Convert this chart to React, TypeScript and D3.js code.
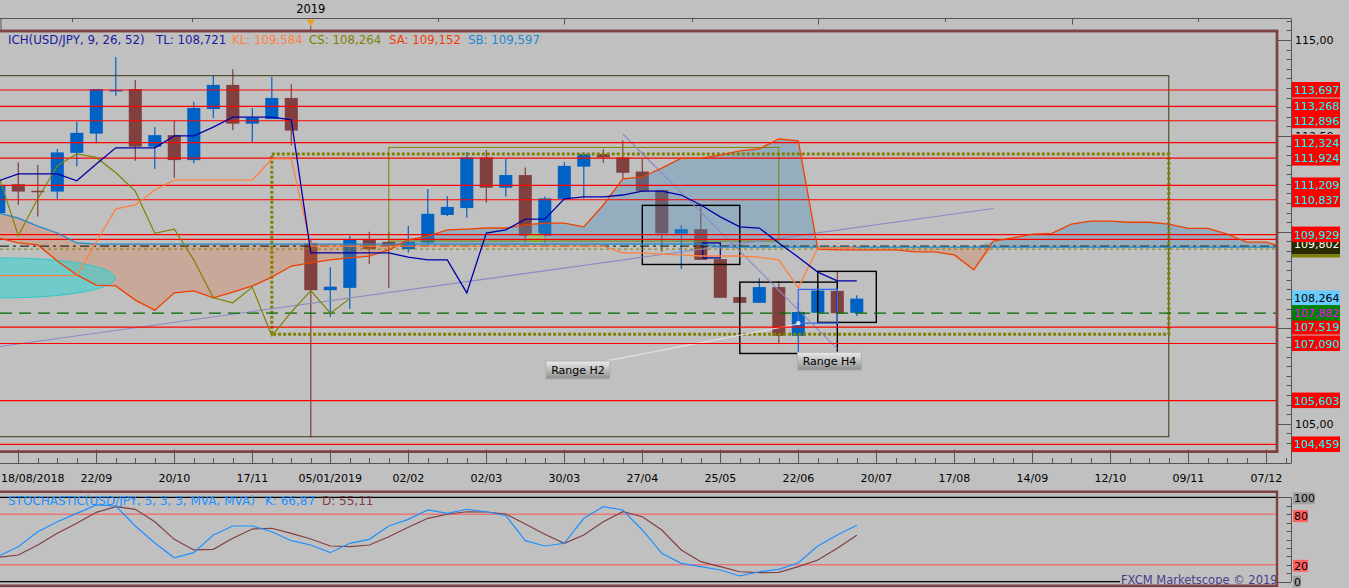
import React from 'react';
import * as d3 from 'd3';

// ---------- DATA ----------
// weekly candles, bar index -1 .. 43
const openP = [110.49,111.24,111.07,111.05,112.06,112.56,113.68,113.72,112.22,112.52,111.87,113.20,113.83,112.82,112.94,113.49,109.70,108.48,108.54,109.79,109.74,109.55,109.72,110.44,110.62,111.94,111.15,111.48,109.90,110.86,111.70,112.03,111.94,111.57,111.09,109.95,110.07,109.29,108.30,108.15,108.56,107.29,107.89,108.46,107.89];
const highP = [111.40,111.81,111.74,112.16,112.86,113.72,114.56,113.96,112.73,112.89,113.39,114.09,114.24,113.23,114.04,113.85,109.79,109.08,109.89,110.00,110.00,110.15,111.12,110.93,112.08,112.13,111.90,111.68,110.92,111.82,112.07,112.15,112.39,111.90,111.09,110.18,110.70,109.29,108.63,108.79,108.72,108.14,108.60,108.98,108.35];
const lowP = [110.30,110.70,110.40,110.86,111.70,112.31,113.55,111.85,111.64,111.41,111.79,112.97,112.65,112.34,112.94,112.26,104.65,107.79,107.99,109.16,108.54,109.46,109.68,110.41,110.37,110.76,110.92,109.74,109.72,110.86,110.87,111.80,111.39,111.06,109.48,109.03,109.27,108.28,108.15,108.15,107.07,106.83,107.86,107.81,107.81];
const closeP = [111.22,111.05,111.05,112.07,112.58,113.72,113.70,112.22,112.52,111.87,113.23,113.83,112.82,112.97,113.49,112.64,108.48,108.57,109.79,109.55,109.63,109.74,110.47,110.65,111.94,111.15,111.48,109.90,110.87,111.72,112.03,111.94,111.54,111.06,109.96,110.07,109.27,108.28,108.15,108.56,107.29,107.91,108.47,107.88,108.26];
const FIRST_BAR = -1;

// Ichimoku lines (bar -1 .. 43)
const tenkan = [111.33,111.51,111.51,111.51,111.33,111.77,112.19,112.19,112.19,112.50,112.50,112.73,112.99,112.99,112.99,112.92,109.45,109.45,109.45,109.45,109.45,109.34,109.27,109.27,108.41,109.97,110.05,110.33,110.33,110.86,110.91,110.91,110.96,111.06,111.06,110.96,110.70,110.39,110.13,110.10,109.71,109.34,108.95,108.72,108.72];
const kijun = [108.86,108.86,108.86,108.86,108.86,109.74,110.60,110.70,111.09,111.35,111.35,111.35,111.35,111.35,111.90,111.90,109.63,109.63,109.63,109.63,109.63,109.63,109.63,109.63,109.63,109.63,109.63,109.63,109.63,109.63,109.63,109.63,109.45,109.45,109.42,109.40,109.37,109.37,109.37,109.34,109.27,108.54,109.58,109.58,109.58];
// Chikou (bar -1 .. 17)
const chikou = [111.45,109.90,110.87,111.72,112.03,111.94,111.54,111.06,109.96,110.07,109.27,108.28,108.15,108.56,107.29,107.91,108.47,107.88,108.26];
// Senkou spans (bar -1 .. 65)
const senkouA = [109.84,109.71,109.66,109.24,108.88,108.61,108.59,108.22,107.96,108.41,108.46,108.28,108.43,108.59,108.82,109.11,109.19,109.27,109.32,109.37,109.53,109.79,109.89,110.05,110.07,110.10,110.10,110.18,110.23,110.23,110.13,110.70,111.38,111.43,111.66,111.92,111.92,112.00,112.11,112.16,112.42,112.37,109.55,109.53,109.53,109.53,109.53,109.48,109.48,109.40,109.01,109.76,109.84,109.94,109.96,110.20,110.28,110.28,110.25,110.25,110.20,110.09,110.09,109.94,109.73,109.73,109.58];
const senkouB = [110.49,110.36,110.15,109.97,109.71,
  109.68,109.68,109.68,109.68,109.68,109.68,109.68,109.68,109.68,109.68,109.68,109.68,109.68,109.68,109.68,109.68,
  109.68,109.68,109.68,109.68,109.68,109.68,109.68,109.68,109.68,109.68,109.68,109.68,109.68,109.68,109.68,109.68,
  109.60,109.60,109.60,109.60,109.60,109.60,109.60,109.60,109.60,109.60,109.60,109.60,109.60,109.60,109.60,109.60,
  109.60,109.60,109.60,109.60,109.60,109.60,109.60,109.60,109.60,109.60,109.60,109.60,109.60,109.60];

// Stochastic (bar -1 .. 43)
const stochK = [30.5,41.5,59.2,71.1,81.0,90.9,89.7,66.0,45.9,28.4,34.4,55.3,66.0,66.0,59.2,48.6,43.5,34.4,45.5,50.2,66.0,73.9,85.0,81.0,85.8,82.9,78.2,48.6,42.3,45.5,75.1,88.9,85.0,61.3,33.6,21.8,17.8,13.9,6.8,11.8,14.7,22.5,42.3,55.3,66.87];
const stochD = [28.9,31.6,43.5,57.3,69.2,82.2,88.9,85.8,71.1,50.2,37.6,38.4,51.4,62.4,63.3,57.3,50.6,42.3,41.5,43.5,53.3,64.5,75.1,79.9,82.9,82.6,80.2,68.4,56.2,45.5,55.3,71.1,82.9,77.0,61.3,37.6,23.7,17.8,11.8,10.7,11.1,17.8,25.7,39.6,55.11];

// X axis
const xTickBars = [0,4,8,12,16,20,24,28,32,36,40,44,48,52,56,60,64];
const xTickLabels = ['18/08/2018','22/09','20/10','17/11','05/01/2019','02/02','02/03','30/03','27/04','25/05','22/06','20/07','17/08','14/09','12/10','09/11','07/12'];
const topMinorBars = [2.75, 8.91, 21.52, 34.55, 47.5, 60.5];
const topMajorBars = [27.98, 41.01, 54.03];
const yearMarkerBar = 15;
const yearLabel = '2019';

// horizontal levels
const redLevels = [113.697,113.268,112.896,112.324,111.924,111.209,110.837,109.929,107.519,107.090,105.603,104.459];
const hiddenLevel = 109.802;
const darkDashLevel = 109.63;
const oliveDotLevel = 109.55;
const greenLevel = 107.882;
const lastPrice = 108.264;
const axisMajor = [105, 107.5, 110, 112.5, 115];
const axisLabeled = [105, 112.5, 115];

// drawings: [bar0, bar1, priceTop, priceBottom]
const bigRect = [-3, 59, 114.07, 104.66];
const oliveRect = [19, 39, 112.20, 109.76];
const dottedRect = [13, 59, 112.03, 107.33];
const blackRects = [[32, 37, 110.69, 109.15], [37, 42, 108.69, 106.83], [41, 44, 108.97, 107.64]];
const blueRect = [40, 42, 108.50, 107.62];
const navyRect = [35.1, 36, 109.71, 109.32];
// trend lines: [bar0, price0, bar1, price1]
const lavLines = [[-0.94, 107.01, 50.0, 110.61], [31.0, 112.55, 42.0, 106.95]];
const grayLine = [30.1, 106.63, 40.0, 107.60];
const rangeLabels = [{ t: 'Range H2', b: 28.7, p: 106.40 }, { t: 'Range H4', b: 41.6, p: 106.63 }];
const cyanEllipse = { b: -0.68, p: 108.80, rb: 5.64, rp: 0.52 };
const greenEllipse = { b: 26.55, p: 109.84, rb: 0.5, rp: 0.13 };

const legend = [
  { t: 'ICH(USD/JPY, 9, 26, 52)', x: 8, c: '#1a1aa0' },
  { t: 'TL: 108,721', x: 156, c: '#1a1aa0' },
  { t: 'KL: 109,584', x: 232, c: '#ff8040' },
  { t: 'CS: 108,264', x: 309, c: '#808000' },
  { t: 'SA: 109,152', x: 389, c: '#f04000' },
  { t: 'SB: 109,597', x: 468, c: '#1e88d0' },
];

const FONT = '"DejaVu Sans", Verdana, sans-serif';
const fmt3 = (v: number) => v.toFixed(3).replace('.', ',');
const fmt2 = (v: number) => v.toFixed(2).replace('.', ',');

export default function App() {
  const W = 1349, H = 588;
  const FR = 1277, FT = 31, FB = 451.7;
  const ST = 491.7, SB = 585.7;
  const AX = 1291;
  const FRAME = '#7e4242';

  const xs = d3.scaleLinear().domain([0, 4]).range([18.3, 96.3]);
  const ys = d3.scaleLinear().domain([105, 115]).range([423.7, 40]);
  const ss = d3.scaleLinear().domain([0, 100]).range([581.7, 497.3]);
  const bw = (xs(1) - xs(0)) * 0.67;

  const mkLine = (arr: number[], start: number, sc: any) =>
    d3.line<number>().x((_, i) => xs(start + i)).y((v) => sc(v))(arr) || '';

  const cloudPts = senkouA.map((a, i) => ({ b: FIRST_BAR + i, a, s: senkouB[i] }));
  const blueArea = d3.area<any>().x((d) => xs(d.b)).y0((d) => ys(d.s)).y1((d) => ys(Math.max(d.a, d.s)))(cloudPts) || '';
  const redArea = d3.area<any>().x((d) => xs(d.b)).y0((d) => ys(d.s)).y1((d) => ys(Math.min(d.a, d.s)))(cloudPts) || '';

  const rectEl = (r: number[], props: any, key?: any) => (
    <rect key={key} x={xs(r[0])} y={ys(r[2])} width={xs(r[1]) - xs(r[0])} height={ys(r[3]) - ys(r[2])} fill="none" {...props} />
  );

  const priceTicks = d3.range(104.5, 115.6, 0.25).filter((v) => ys(v) > 19 && ys(v) < 463);
  const barsAll = d3.range(-1, 66);

  const labelBox = (v: number, bg: string, fg: string, key: any) => {
    const y = ys(v);
    return (
      <g key={key}>
        <rect x={1292} y={y - 8} width={48} height={15.5} fill={bg} />
        <text x={1294} y={y + 4} fill={fg} fontSize={11} fontFamily={FONT}>{fmt3(v)}</text>
      </g>
    );
  };

  const frame = (t: number, b: number, key: string) => (
    <g key={key} stroke={FRAME} strokeWidth={2.4} fill="none">
      <line x1={0} x2={FR + 1.2} y1={t} y2={t} />
      <line x1={0} x2={FR + 1.2} y1={b} y2={b} />
      <line x1={FR} x2={FR} y1={t} y2={b} />
    </g>
  );

  return (
    <div style={{ width: W, height: H, overflow: 'hidden' }}>
      <style>{`html,body{margin:0;padding:0;overflow:hidden;background:#c0c0c0}`}</style>
      <svg width={W} height={H} style={{ display: 'block' }}>
        <defs>
          <clipPath id="mainClip"><rect x={0} y={FT} width={FR} height={FB - FT} /></clipPath>
          <clipPath id="stochClip"><rect x={0} y={ST} width={FR} height={SB - ST} /></clipPath>
          <clipPath id="aboveBox"><rect x={1290} y={120} width={59} height={14} /></clipPath>
          <linearGradient id="btn" x1="0" y1="0" x2="0" y2="1">
            <stop offset="0" stopColor="#ececec" />
            <stop offset="1" stopColor="#8c8c8c" />
          </linearGradient>
        </defs>
        <rect x={0} y={0} width={W} height={H} fill="#c0c0c0" />

        {/* top navigator strip */}
        <line x1={0} x2={AX} y1={18.5} y2={18.5} stroke="#555" />
        <line x1={1} x2={1} y1={18.5} y2={30} stroke="#555" />
        {topMinorBars.map((b, i) => (
          <line key={'tm' + i} x1={Math.round(xs(b)) + 0.5} x2={Math.round(xs(b)) + 0.5} y1={18.5} y2={22} stroke="#555" />
        ))}
        {topMajorBars.map((b, i) => (
          <line key={'tM' + i} x1={Math.round(xs(b)) + 0.5} x2={Math.round(xs(b)) + 0.5} y1={18.5} y2={24.5} stroke="#555" />
        ))}
        <text x={xs(yearMarkerBar)} y={13} textAnchor="middle" fontSize={11.5} fontFamily={FONT} fill="#000">{yearLabel}</text>
        <path d={`M${xs(yearMarkerBar) - 4},19.5 L${xs(yearMarkerBar) + 4},19.5 L${xs(yearMarkerBar)},26.5 Z`} fill="#f0a020" />
        <line x1={xs(yearMarkerBar)} x2={xs(yearMarkerBar)} y1={26} y2={31} stroke="#804040" />

        {/* legend */}
        {legend.map((l, i) => (
          <text key={'lg' + i} x={l.x} y={44} fill={l.c} fontSize={11.8} fontFamily={FONT}>{l.t}</text>
        ))}

        {/* main plot */}
        <g clipPath="url(#mainClip)">
          {openP.map((o, i) => {
            const b = FIRST_BAR + i;
            const c = closeP[i];
            const bull = c >= o;
            const col = bull ? '#0062c4' : '#804040';
            const x = xs(b);
            const top = ys(Math.max(o, c));
            const bot = ys(Math.min(o, c));
            return (
              <g key={'c' + i}>
                <line x1={x} x2={x} y1={ys(highP[i])} y2={ys(lowP[i])} stroke={col} strokeWidth={1.2} />
                <rect x={x - bw / 2} y={top} width={bw} height={Math.max(1.5, bot - top)} fill={col} />
              </g>
            );
          })}

          <path d={redArea} fill="rgba(224,96,32,0.25)" />
          <path d={blueArea} fill="rgba(70,140,192,0.36)" />

          <ellipse cx={xs(cyanEllipse.b)} cy={ys(cyanEllipse.p)} rx={xs(cyanEllipse.rb) - xs(0)} ry={ys(105) - ys(105 + cyanEllipse.rp)}
            fill="#40d0d0" fillOpacity={0.6} stroke="#30c8c8" strokeWidth={1} />
          <ellipse cx={xs(greenEllipse.b)} cy={ys(greenEllipse.p)} rx={xs(greenEllipse.rb) - xs(0)} ry={ys(105) - ys(105 + greenEllipse.rp)}
            fill="#98d060" fillOpacity={0.75} />

          {rectEl(bigRect, { stroke: '#3a3a14', strokeWidth: 1 })}
          {rectEl(oliveRect, { stroke: '#808000', strokeWidth: 1 })}
          {rectEl(dottedRect, { stroke: '#808000', strokeWidth: 3, strokeDasharray: '3 2' })}
          {blackRects.map((r, i) => rectEl(r, { stroke: '#000', strokeWidth: 1.4 }, 'br' + i))}
          {rectEl(blueRect, { stroke: '#3868f0', strokeWidth: 1.3 })}
          {rectEl(navyRect, { stroke: '#0000a0', strokeWidth: 1.3 })}

          {lavLines.map((l, i) => (
            <line key={'lv' + i} x1={xs(l[0])} y1={ys(l[1])} x2={xs(l[2])} y2={ys(l[3])} stroke="#8a8ac4" strokeWidth={1.1} />
          ))}
          <line x1={xs(grayLine[0])} y1={ys(grayLine[1])} x2={xs(grayLine[2])} y2={ys(grayLine[3])} stroke="#e2e2e2" strokeWidth={1.1} />
          <circle cx={xs(blueRect[0])} cy={ys(blueRect[3])} r={2.2} fill="#e0e0e0" />

          {redLevels.map((v, i) => (
            <line key={'rl' + i} x1={0} x2={FR} y1={ys(v)} y2={ys(v)} stroke="#ff0000" strokeWidth={1.2} />
          ))}
          <line x1={0} x2={FR} y1={ys(hiddenLevel)} y2={ys(hiddenLevel)} stroke="#ff0000" strokeWidth={1.2} />
          <line x1={0} x2={FR} y1={ys(darkDashLevel)} y2={ys(darkDashLevel)} stroke="#2e2e10" strokeWidth={1.2} strokeDasharray="9 4 3 4" />
          <line x1={0} x2={FR} y1={ys(oliveDotLevel)} y2={ys(oliveDotLevel)} stroke="#808000" strokeWidth={1} strokeDasharray="3 3" />
          <line x1={0} x2={FR} y1={ys(greenLevel)} y2={ys(greenLevel)} stroke="#006a00" strokeWidth={1.3} strokeDasharray="12 7" />

          <path d={mkLine(senkouB, FIRST_BAR, ys)} fill="none" stroke="#1e88d0" strokeWidth={1.3} />
          <path d={mkLine(senkouA, FIRST_BAR, ys)} fill="none" stroke="#f04000" strokeWidth={1.3} />
          <path d={mkLine(chikou, FIRST_BAR, ys)} fill="none" stroke="#808000" strokeWidth={1.2} />
          <path d={mkLine(kijun, FIRST_BAR, ys)} fill="none" stroke="#ff8040" strokeWidth={1.3} />
          <path d={mkLine(tenkan, FIRST_BAR, ys)} fill="none" stroke="#0000a8" strokeWidth={1.3} />

          {rangeLabels.map((r, i) => (
            <g key={'rg' + i}>
              <rect x={xs(r.b) - 32} y={ys(r.p) - 9} width={64} height={18} fill="url(#btn)" stroke="#b0b0b0" strokeWidth={1} />
              <text x={xs(r.b)} y={ys(r.p) + 4} textAnchor="middle" fontSize={11} fontFamily={FONT} fill="#000">{r.t}</text>
            </g>
          ))}
        </g>

        {frame(FT, FB, 'mf')}

        {/* price axis */}
        <line x1={AX + 0.5} x2={AX + 0.5} y1={18.5} y2={463.5} stroke="#555" />
        {priceTicks.map((v, i) => {
          const major = axisMajor.some((m) => Math.abs(m - v) < 1e-6);
          return <line key={'pt' + i} x1={major ? FR : 1286.5} x2={AX} y1={Math.round(ys(v)) + 0.5} y2={Math.round(ys(v)) + 0.5} stroke="#555" />;
        })}
        {axisLabeled.map((v, i) => (
          <text key={'pa' + i} x={1295} y={ys(v) + 4} fontSize={11} fontFamily={FONT} fill="#000"
            clipPath={v === 112.5 ? 'url(#aboveBox)' : undefined}>{fmt2(v)}</text>
        ))}
        <g>
          <rect x={1292} y={ys(hiddenLevel)} width={48} height={15} fill="#2a2a00" />
          <rect x={1292} y={ys(hiddenLevel) + 15} width={48} height={3} fill="#808000" />
          <text x={1294} y={ys(hiddenLevel) + 9} fill="#ffffff" fontSize={11} fontFamily={FONT}>{fmt3(hiddenLevel)}</text>
        </g>
        {redLevels.map((v, i) => labelBox(v, '#ff0000', '#00ffff', 'lb' + i))}
        {labelBox(lastPrice, '#66ccff', '#000000', 'lp')}
        {labelBox(greenLevel, '#008000', '#ff00ff', 'gl')}

        {/* x axis */}
        <line x1={0} x2={AX} y1={463.5} y2={463.5} stroke="#555" />
        {barsAll.map((b) => (
          <line key={'xm' + b} x1={Math.round(xs(b)) + 0.5} x2={Math.round(xs(b)) + 0.5} y1={458} y2={463.5} stroke="#555" />
        ))}
        {xTickBars.map((b) => (
          <line key={'xM' + b} x1={Math.round(xs(b)) + 0.5} x2={Math.round(xs(b)) + 0.5} y1={449.5} y2={463.5} stroke="#555" />
        ))}
        {xTickBars.map((b, i) => {
          const first = xs(b) - 34 < 0;
          return (
            <text key={'xl' + i} x={first ? 1 : xs(b)} y={482} textAnchor={first ? 'start' : 'middle'} fontSize={11} fontFamily={FONT} fill="#000">{xTickLabels[i]}</text>
          );
        })}
        {frame(FT, FB, 'mf2')}

        {/* stochastic panel */}
        <line x1={0} x2={FR} y1={ss(100)} y2={ss(100)} stroke="#000" strokeWidth={1.2} />
        <line x1={0} x2={FR} y1={ss(80)} y2={ss(80)} stroke="#ff5050" strokeWidth={1} />
        <line x1={0} x2={FR} y1={ss(20)} y2={ss(20)} stroke="#ff5050" strokeWidth={1} />
        <line x1={0} x2={1120} y1={ss(0)} y2={ss(0)} stroke="#000" strokeWidth={1.2} />
        <text x={8} y={504.5} fill="#1e90ff" fontSize={12} fontFamily={FONT}>STOCHASTIC(USD/JPY, 5, 3, 3, MVA, MVA)</text>
        <text x={265} y={504.5} fill="#1e90ff" fontSize={12} fontFamily={FONT}>K: 66,87</text>
        <text x={322} y={504.5} fill="#804040" fontSize={12} fontFamily={FONT}>D: 55,11</text>
        <g clipPath="url(#stochClip)">
          <path d={mkLine(stochD, FIRST_BAR, ss)} fill="none" stroke="#804040" strokeWidth={1.2} />
          <path d={mkLine(stochK, FIRST_BAR, ss)} fill="none" stroke="#1e90ff" strokeWidth={1.2} />
        </g>
        <text x={1121} y={584} fill="#483d8b" fontSize={11.5} fontFamily={FONT}>FXCM Marketscope © 2019</text>
        {frame(ST, SB, 'sf')}

        {/* stochastic axis */}
        <line x1={AX + 0.5} x2={AX + 0.5} y1={ss(100)} y2={ss(0)} stroke="#555" />
        {d3.range(0, 101, 10).map((v) => (
          <line key={'st' + v} x1={v === 0 || v === 100 ? FR : 1286.5} x2={AX} y1={Math.round(ss(v)) + 0.5} y2={Math.round(ss(v)) + 0.5} stroke="#555" />
        ))}
        <rect x={1293} y={ss(100) - 5} width={22} height={12} fill="#a0a0a0" />
        <text x={1294} y={ss(100) + 5} fontSize={11} fontFamily={FONT} fill="#000">100</text>
        <rect x={1293} y={ss(80) - 4} width={15} height={12} fill="#ff6060" />
        <text x={1294} y={ss(80) + 6} fontSize={11} fontFamily={FONT} fill="#000">80</text>
        <rect x={1293} y={ss(20) - 5} width={15} height={12} fill="#ff6060" />
        <text x={1294} y={ss(20) + 5} fontSize={11} fontFamily={FONT} fill="#000">20</text>
        <rect x={1293} y={ss(0) - 6} width={8} height={12} fill="#a0a0a0" />
        <text x={1294} y={ss(0) + 4} fontSize={11} fontFamily={FONT} fill="#000">0</text>
      </svg>
    </div>
  );
}
